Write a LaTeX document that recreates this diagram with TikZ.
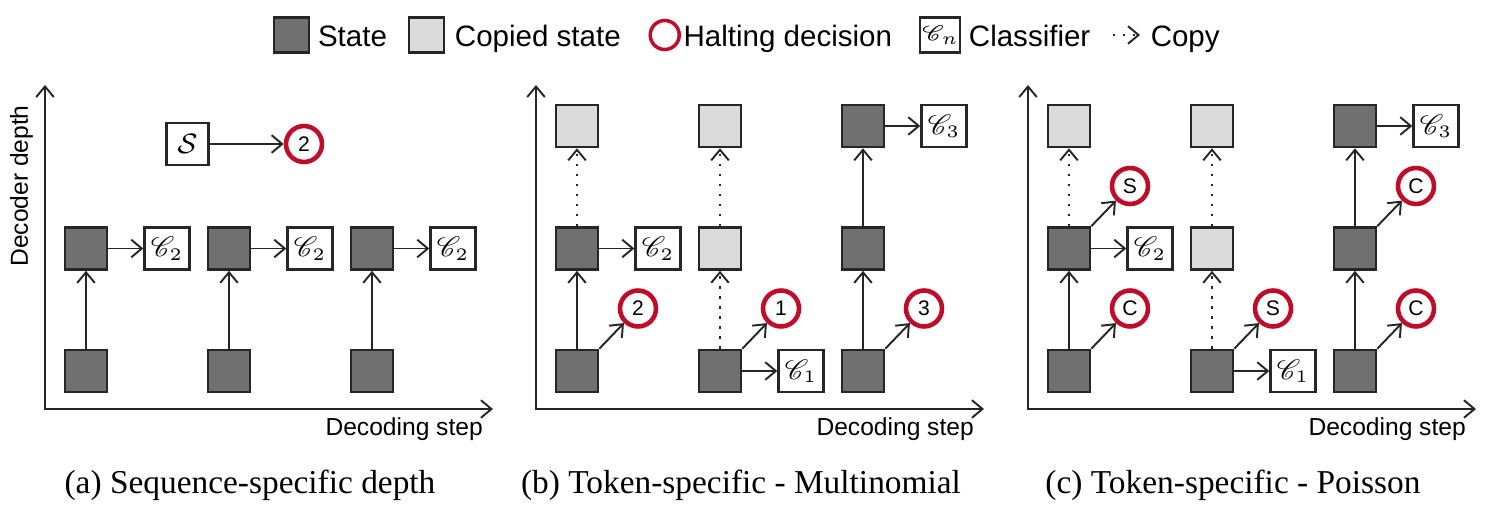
\documentclass[tikz,border=0pt]{standalone}
\usepackage[no-math]{fontspec}
\setmainfont{Liberation Serif}
\setsansfont{Liberation Sans}
\usepackage{mathrsfs}
\usetikzlibrary{positioning,calc,arrows.meta}

\definecolor{sgray}{RGB}{112,112,112}
\definecolor{cgray}{RGB}{219,219,219}
\definecolor{hred}{RGB}{192,12,40}
\definecolor{dgray}{RGB}{38,38,38}

\tikzset{
    >={Straight Barb[length=3pt,width=5pt]},
    statebox/.style={draw=dgray, fill=sgray, line width=0.75pt, minimum size=0.42cm, inner sep=0pt},
    copiedbox/.style={statebox, fill=cgray},
    classbox/.style={draw=dgray, fill=white, line width=0.7pt, minimum width=0.45cm, minimum height=0.42cm, inner sep=0pt, font=\fontsize{7.6}{9}\selectfont},
    halt/.style={circle, draw=hred, line width=1.3pt, minimum size=0.36cm, inner sep=0pt, font=\sffamily\fontsize{6}{7}\selectfont},
    flow/.style={->, line width=0.55pt, draw=dgray},
    copyflow/.style={flow, dash pattern=on 0.65pt off 2.2pt},
    axis/.style={<->, line width=0.55pt, draw=dgray},
    legtext/.style={font=\sffamily\fontsize{8.4}{10}\selectfont, inner sep=0pt, text height=1.38ex, text depth=0pt},
    axlabel/.style={font=\sffamily\fontsize{7}{8}\selectfont, inner sep=0pt},
    caption/.style={font=\rmfamily\fontsize{9.5}{11}\selectfont, inner sep=0pt},
}

\begin{document}
\begin{tikzpicture}
    \useasboundingbox (0,0) rectangle (14.91,-5.11);

    % legend
    \node[statebox, minimum size=0.35cm] (lgState) at (2.915,-0.35) {};
    \node[legtext, right=0.07cm of lgState] (lgStateTxt) {State};
    \node[copiedbox, minimum size=0.35cm, right=0.20cm of lgStateTxt] (lgCopied) {};
    \node[legtext, right=0.09cm of lgCopied] (lgCopiedTxt) {Copied state};
    \node[halt, minimum size=0.29cm, line width=1pt, right=0.27cm of lgCopiedTxt] (lgHalt) {};
    \node[legtext, right=0.02cm of lgHalt] (lgHaltTxt) {Halting decision};
    \node[classbox, minimum width=0.40cm, minimum height=0.35cm, font=\fontsize{5.8}{7}\selectfont, right=0.26cm of lgHaltTxt] (lgClass) {$\mathscr{C}_n$};
    \node[legtext, right=0.07cm of lgClass] (lgClassTxt) {Classifier};
    \coordinate[right=0.22cm of lgClassTxt] (lgCopyA);
    \coordinate[right=0.27cm of lgCopyA] (lgCopyB);
    \draw[copyflow] (lgCopyA) -- (lgCopyB);
    \node[legtext, right=0.10cm of lgCopyB] (lgCopyTxt) {Copy};

    % (a) sequence-specific depth
    \begin{scope}[shift={(0.45,-4.09)}]
        \coordinate (originA) at (0,0);
        \coordinate (yTopA) at (0,3.24);
        \coordinate (xEndA) at (4.48,0);
        \draw[axis] (yTopA) -- (originA) -- (xEndA);
        \node[axlabel, anchor=north east] (xLabelA) at (4.385,-0.08) {Decoding step};
        \node[axlabel, rotate=90] (yLabelA) at (-0.235,2.23) {Decoder depth};

        \node[classbox, minimum width=0.42cm, font=\fontsize{8}{9}\selectfont] (seqA) at (1.425,2.65) {$\mathcal{S}$};
        \node[halt] (haltA) at (2.59,2.65) {2};
        \draw[flow] (seqA) -- (haltA);

        \node[statebox] (stateA11) at (0.41,0.38) {};
        \node[statebox] (stateA12) at (0.41,1.605) {};
        \node[statebox] (stateA21) at (1.84,0.38) {};
        \node[statebox] (stateA22) at (1.84,1.605) {};
        \node[statebox] (stateA31) at (3.27,0.38) {};
        \node[statebox] (stateA32) at (3.27,1.605) {};

        \node[classbox, right=0.35cm of stateA12] (classA1) {$\mathscr{C}_2$};
        \node[classbox, right=0.35cm of stateA22] (classA2) {$\mathscr{C}_2$};
        \node[classbox, right=0.35cm of stateA32] (classA3) {$\mathscr{C}_2$};

        \draw[flow] (stateA11) -- (stateA12);
        \draw[flow] (stateA21) -- (stateA22);
        \draw[flow] (stateA31) -- (stateA32);
        \draw[flow] (stateA12) -- (classA1);
        \draw[flow] (stateA22) -- (classA2);
        \draw[flow] (stateA32) -- (classA3);

        \node[caption] (capA) at (2.05,-0.76) {(a) Sequence-specific depth};
    \end{scope}

    % (b) token-specific, multinomial
    \begin{scope}[shift={(5.36,-4.09)}]
        \coordinate (originB) at (0,0);
        \coordinate (yTopB) at (0,3.24);
        \coordinate (xEndB) at (4.48,0);
        \draw[axis] (yTopB) -- (originB) -- (xEndB);
        \node[axlabel, anchor=north east] (xLabelB) at (4.385,-0.08) {Decoding step};

        \node[statebox] (stateB11) at (0.41,0.38) {};
        \node[statebox] (stateB12) at (0.41,1.605) {};
        \node[copiedbox] (stateB13) at (0.41,2.83) {};
        \node[statebox] (stateB21) at (1.84,0.38) {};
        \node[copiedbox] (stateB22) at (1.84,1.605) {};
        \node[copiedbox] (stateB23) at (1.84,2.83) {};
        \node[statebox] (stateB31) at (3.27,0.38) {};
        \node[statebox] (stateB32) at (3.27,1.605) {};
        \node[statebox] (stateB33) at (3.27,2.83) {};

        \draw[flow] (stateB11) -- (stateB12);
        \draw[copyflow] (stateB12) -- (stateB13);
        \draw[copyflow] (stateB21) -- (stateB22);
        \draw[copyflow] (stateB22) -- (stateB23);
        \draw[flow] (stateB31) -- (stateB32);
        \draw[flow] (stateB32) -- (stateB33);

        \node[halt] (haltB1) at ($(stateB11)+(0.61,0.625)$) {2};
        \node[halt] (haltB2) at ($(stateB21)+(0.61,0.625)$) {1};
        \node[halt] (haltB3) at ($(stateB31)+(0.61,0.625)$) {3};
        \draw[flow] (stateB11.north east) -- (haltB1);
        \draw[flow] (stateB21.north east) -- (haltB2);
        \draw[flow] (stateB31.north east) -- (haltB3);

        \node[classbox, right=0.35cm of stateB12] (classB1) {$\mathscr{C}_2$};
        \node[classbox, right=0.35cm of stateB21] (classB2) {$\mathscr{C}_1$};
        \node[classbox, right=0.35cm of stateB33] (classB3) {$\mathscr{C}_3$};
        \draw[flow] (stateB12) -- (classB1);
        \draw[flow] (stateB21) -- (classB2);
        \draw[flow] (stateB33) -- (classB3);

        \node[caption] (capB) at (2.05,-0.76) {(b) Token-specific - Multinomial};
    \end{scope}

    % (c) token-specific, poisson
    \begin{scope}[shift={(10.28,-4.09)}]
        \coordinate (originC) at (0,0);
        \coordinate (yTopC) at (0,3.24);
        \coordinate (xEndC) at (4.48,0);
        \draw[axis] (yTopC) -- (originC) -- (xEndC);
        \node[axlabel, anchor=north east] (xLabelC) at (4.385,-0.08) {Decoding step};

        \node[statebox] (stateC11) at (0.41,0.38) {};
        \node[statebox] (stateC12) at (0.41,1.605) {};
        \node[copiedbox] (stateC13) at (0.41,2.83) {};
        \node[statebox] (stateC21) at (1.84,0.38) {};
        \node[copiedbox] (stateC22) at (1.84,1.605) {};
        \node[copiedbox] (stateC23) at (1.84,2.83) {};
        \node[statebox] (stateC31) at (3.27,0.38) {};
        \node[statebox] (stateC32) at (3.27,1.605) {};
        \node[statebox] (stateC33) at (3.27,2.83) {};

        \draw[flow] (stateC11) -- (stateC12);
        \draw[copyflow] (stateC12) -- (stateC13);
        \draw[copyflow] (stateC21) -- (stateC22);
        \draw[copyflow] (stateC22) -- (stateC23);
        \draw[flow] (stateC31) -- (stateC32);
        \draw[flow] (stateC32) -- (stateC33);

        \node[halt] (haltC11) at ($(stateC11)+(0.61,0.625)$) {C};
        \node[halt] (haltC12) at ($(stateC12)+(0.61,0.625)$) {S};
        \node[halt] (haltC21) at ($(stateC21)+(0.61,0.625)$) {S};
        \node[halt] (haltC31) at ($(stateC31)+(0.61,0.625)$) {C};
        \node[halt] (haltC32) at ($(stateC32)+(0.61,0.625)$) {C};
        \draw[flow] (stateC11.north east) -- (haltC11);
        \draw[flow] (stateC12.north east) -- (haltC12);
        \draw[flow] (stateC21.north east) -- (haltC21);
        \draw[flow] (stateC31.north east) -- (haltC31);
        \draw[flow] (stateC32.north east) -- (haltC32);

        \node[classbox, right=0.35cm of stateC12] (classC1) {$\mathscr{C}_2$};
        \node[classbox, right=0.35cm of stateC21] (classC2) {$\mathscr{C}_1$};
        \node[classbox, right=0.35cm of stateC33] (classC3) {$\mathscr{C}_3$};
        \draw[flow] (stateC12) -- (classC1);
        \draw[flow] (stateC21) -- (classC2);
        \draw[flow] (stateC33) -- (classC3);

        \node[caption] (capC) at (2.05,-0.76) {(c) Token-specific - Poisson};
    \end{scope}
\end{tikzpicture}
\end{document}
